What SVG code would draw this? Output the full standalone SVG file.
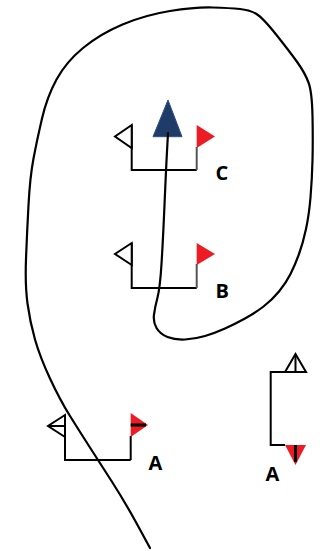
<svg xmlns="http://www.w3.org/2000/svg" width="320" height="551" viewBox="0 0 320 551">
<style>
.br{fill:none;stroke:#000;stroke-width:2}
.brr{fill:none;stroke:#555;stroke-width:2}
.open{fill:#fff;stroke:#000;stroke-width:2;stroke-linejoin:miter}
.red{fill:#ed1c24;stroke:none}
.bar{stroke:#000;stroke-width:3}
.lbl{font-family:"Open Sans","Liberation Sans",sans-serif;font-weight:bold;font-size:20px;fill:#000}
.path{fill:none;stroke:#000;stroke-width:2.2;stroke-linecap:round;stroke-linejoin:round}
</style>
<rect width="320" height="551" fill="#fff"/>
<g id="node-C">
<polyline class="br" points="131.7,125 131.7,170 196.7,170"/>
<polyline class="brr" points="196.7,170 196.7,147"/>
<polygon class="open" points="131.7,125 115,136.5 131.7,148"/>
<polygon class="red" points="196.7,125 215,136.5 196.7,148"/>
<polygon id="start-arrow" points="168,100 182,136.7 153,136.7" fill="#1f3c68" stroke="#2f5080" stroke-width="1"/>
<text class="lbl" x="215.5" y="180">C</text>
</g>
<g id="node-B">
<polyline class="br" points="131.7,243 131.7,288 196.7,288"/>
<polyline class="brr" points="196.7,288 196.7,264"/>
<polygon class="open" points="131.7,243 115,254 131.7,265"/>
<polygon class="red" points="196.7,243 215,254 196.7,265"/>
<text class="lbl" x="215.5" y="298">B</text>
</g>
<g id="node-A1">
<polyline class="br" points="65,415 65,460 130.7,460"/>
<polyline class="br" points="130.7,460 130.7,436"/>
<polygon class="open" points="65,415 48,426 65,437"/>
<line x1="48" y1="426" x2="65" y2="426" stroke="#000" stroke-width="2"/>
<polygon class="red" points="130.7,413 148,425 130.7,437"/>
<line class="bar" x1="130.7" y1="425" x2="146" y2="425"/>
<text class="lbl" x="148.5" y="470">A</text>
</g>
<g id="node-A2">
<polyline class="br" points="285,372 270.7,372 270.7,445 285,445"/>
<polygon class="open" points="285,372 295.5,354 306,372"/>
<line x1="295.5" y1="355" x2="295.5" y2="372" stroke="#000" stroke-width="2"/>
<polygon class="red" points="285,445 306,445 295.5,465"/>
<line class="bar" x1="295.5" y1="445" x2="295.5" y2="462"/>
<text class="lbl" x="265.5" y="481">A</text>
</g>
<g id="connectors">
<path class="path" d="M168,133 L167,151.5 Q166,170 164.5,205 Q163,240 161.5,264 Q160,288 157.5,297.5 Q155,307 154,314.5 Q153,322 156.5,328 Q160,334 167.5,337 Q175,340 185,339.5 Q195,339 205,336 Q215,333 225,328.5 Q235,324 245,318.5 Q255,313 263.5,306.5 Q272,300 279,291.5 Q286,283 290.5,274 Q295,265 299,254 Q303,243 306,229 Q309,215 310.5,197.5 Q312,180 312.5,160 Q313,140 312.5,116 Q312,92 308.5,82.5 Q305,73 297.5,62.5 Q290,52 276.5,35 Q263,18 256.5,14 Q250,10 240,9 Q230,8 212.5,7.5 Q195,7 170,11 Q145,15 122.5,24.5 Q100,34 83,48 Q66,62 56.5,79.5 Q47,97 42,118.5 Q37,140 33.5,158.5 Q30,177 28.5,205 Q27,233 26,259 Q25,285 27.5,303.5 Q30,322 35,339.5 Q40,357 50,378.5 Q60,400 70,416 Q80,432 89,446 Q98,460 111.5,481 Q125,502 137.5,525 L150,548"/>
</g>
</svg>
